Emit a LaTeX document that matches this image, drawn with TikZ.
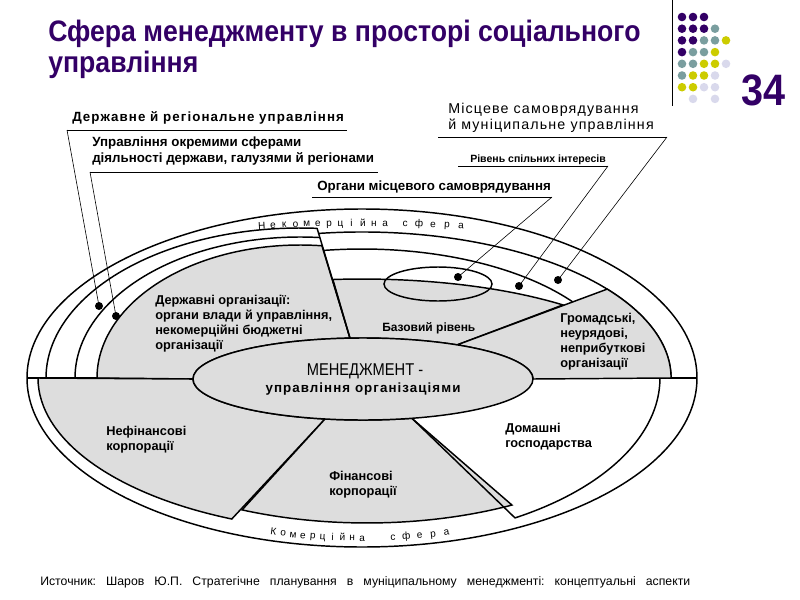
\documentclass[tikz,border=0pt]{standalone}
\usepackage{fontspec}
\setmainfont{Liberation Sans}
\newfontfamily\spacedfont{Liberation Sans}[LetterSpace=8]
\newfontfamily\titlefont{Liberation Sans}[FakeStretch=0.9]
\newfontfamily\narrowfont{Liberation Sans}[FakeStretch=0.86]
\usetikzlibrary{positioning}
\definecolor{titlepurple}{RGB}{51,0,102}
\definecolor{dotteal}{RGB}{122,158,159}
\definecolor{dotolive}{RGB}{204,204,0}
\definecolor{dotlilac}{RGB}{217,217,236}
\definecolor{sectorgray}{RGB}{221,221,221}
\tikzset{
	every node/.style={inner sep=0pt},
	border/.style={line width=1.1pt},
	sector/.style={border, fill=sectorgray},
	underline/.style={line width=0.6pt},
	leader/.style={line width=0.45pt},
	leaderdot/.style={circle, fill=black, minimum size=6pt},
	txt/.style={anchor=north west, align=left,
		font=\bfseries\fontsize{9.6}{11.25}\selectfont},
	toplbl/.style={anchor=base west, align=left,
		font=\bfseries\fontsize{10}{12}\selectfont},
	bandtxt/.style={anchor=base, font=\fontsize{7.5}{9}\selectfont}
}

\begin{document}
\frenchspacing
\begin{tikzpicture}[x=0.75pt, y=-0.75pt]
	\useasboundingbox (0,0) rectangle (800,600);

	\node[anchor=north west, align=left, text=titlepurple,
		font=\titlefont\bfseries\fontsize{22.2}{23}\selectfont] (title) at (48,20)
		{Сфера менеджменту в просторі соціального\\управління};
	\draw[line width=0.6pt] (672,0) -- (672,106);
	\foreach \c/\r/\col in {1/1/titlepurple,2/1/titlepurple,3/1/titlepurple,
		1/2/titlepurple,2/2/titlepurple,3/2/titlepurple,4/2/dotteal,
		1/3/titlepurple,2/3/titlepurple,3/3/dotteal,4/3/dotteal,5/3/dotolive,
		1/4/titlepurple,2/4/dotteal,3/4/dotteal,4/4/dotolive,
		1/5/dotteal,2/5/dotteal,3/5/dotolive,4/5/dotolive,5/5/dotlilac,
		1/6/dotteal,2/6/dotolive,3/6/dotolive,4/6/dotlilac,
		1/7/dotolive,2/7/dotolive,3/7/dotlilac,4/7/dotlilac,
		2/8/dotlilac,4/8/dotlilac}
		\fill[\col] ({682+11*(\c-1)},{17+11.7*(\r-1)}) circle[radius=4.3];
	\node[anchor=base east, text=titlepurple,
		font=\titlefont\bfseries\fontsize{33}{33}\selectfont] (pagenum) at (786,105) {34};

	% outer field
	\draw[border, fill=white] (362,378) ellipse[x radius=335, y radius=169];
	\draw[border] (27,378) -- (697,378);

	% state sector
	\draw[border] (46,378) arc[start angle=180, end angle=273.8, x radius=254, y radius=150];
	\draw[border] (75,378) arc[start angle=180, end angle=275, x radius=225, y radius=141];
	\filldraw[sector] (97,378) arc[start angle=180, end angle=276.2, x radius=203, y radius=133]
		-- (350,338.1) arc[start angle=265.6, end angle=180, x radius=170, y radius=41] -- cycle;

	% local sector
	\draw[border] (319,233.4) arc[start angle=262, end angle=360, x radius=309, y radius=146];
	\draw[border] (323.9,250.4) arc[start angle=261.6, end angle=323.8, x radius=261, y radius=129];
	\filldraw[sector] (332.9,279.5) arc[start angle=264.4, end angle=312.4, x radius=298, y radius=99]
		-- (457.1,344.9) arc[start angle=303.6, end angle=265.6, x radius=170, y radius=41] -- cycle;
	\draw[border] (438,284) ellipse[x radius=54, y radius=17];
	\filldraw[sector] (457.1,344.9) -- (607.2,289.1)
		arc[start angle=322.5, end angle=360, x radius=309, y radius=146]
		-- (533,379) arc[start angle=0, end angle=-56.4, x radius=170, y radius=41] -- cycle;
	\draw[border] (317,228) -- (350,338.1);

	% commercial sector
	\filldraw[sector] (38,378) arc[start angle=180, end angle=113.7, x radius=324, y radius=154]
		-- (325,419) arc[start angle=102.9, end angle=180, x radius=170, y radius=41] -- cycle;
	\filldraw[sector] (325,419) -- (242.1,509.9)
		arc[start angle=114.6, end angle=61.1, x radius=300, y radius=144]
		-- (411.9,418.3) arc[start angle=73.3, end angle=102.9, x radius=170, y radius=41] -- cycle;
	\draw[border] (411.9,418.3) -- (515,517.9)
		arc[start angle=59.1, end angle=0, x radius=298, y radius=163];

	\filldraw[sector] (363,379) ellipse[x radius=170, y radius=41];

	% band captions
	\foreach \ch [count=\i from 0] in {Н,е,к,о,м,е,р,ц,і,й,н,а}{
		\pgfmathsetmacro\xx{262+11.2*\i}
		\pgfmathsetmacro\uu{(\xx-362)/520}
		\pgfmathsetmacro\yy{378-152*sqrt(1-\uu*\uu)}
		\pgfmathsetmacro\rot{-atan(152*\uu/(520*sqrt(1-\uu*\uu)))}
		\node[bandtxt, rotate=\rot] (nka\i) at (\xx,\yy) {\ch};
	}
	\foreach \ch [count=\i from 0] in {с,ф,е,р,а}{
		\pgfmathsetmacro\xx{405+14*\i}
		\pgfmathsetmacro\uu{(\xx-362)/520}
		\pgfmathsetmacro\yy{378-152*sqrt(1-\uu*\uu)}
		\pgfmathsetmacro\rot{-atan(152*\uu/(520*sqrt(1-\uu*\uu)))}
		\node[bandtxt, rotate=\rot] (nkb\i) at (\xx,\yy) {\ch};
	}
	\foreach \ch [count=\i from 0] in {К,о,м,е,р,ц,і,й,н,а}{
		\pgfmathsetmacro\xx{273+9.9*\i}
		\pgfmathsetmacro\uu{(\xx-362)/331}
		\pgfmathsetmacro\yy{378+163*sqrt(1-\uu*\uu)}
		\pgfmathsetmacro\rot{atan(163*\uu/(331*sqrt(1-\uu*\uu)))}
		\node[bandtxt, rotate=\rot] (kma\i) at (\xx,\yy) {\ch};
	}
	\foreach \ch [count=\i from 0] in {с,ф,е,р,а}{
		\pgfmathsetmacro\xx{393+13.5*\i}
		\pgfmathsetmacro\uu{(\xx-362)/331}
		\pgfmathsetmacro\yy{378+163*sqrt(1-\uu*\uu)}
		\pgfmathsetmacro\rot{atan(163*\uu/(331*sqrt(1-\uu*\uu)))}
		\node[bandtxt, rotate=\rot] (kmb\i) at (\xx,\yy) {\ch};
	}

	% sector texts
	\node[txt] (txtstate) at (155,295) {Державні організації:\\органи влади й управління,\\некомерційні бюджетні\\організації};
	\node[txt, anchor=base west, font=\bfseries\fontsize{9}{11}\selectfont] (txtbase) at (382,331) {Базовий рівень};
	\node[txt] (txtpublic) at (560,313) {Громадські,\\неурядові,\\неприбуткові\\організації};
	\node[anchor=base, font=\narrowfont\fontsize{12.8}{14}\selectfont] (txtmanage) at (365,375) {МЕНЕДЖМЕНТ -};
	\node[anchor=base, font=\spacedfont\bfseries\fontsize{10}{12}\selectfont] (txtorg) at (363,392) {управління організаціями};
	\node[txt] (txtnonfin) at (106,426) {Нефінансові\\корпорації};
	\node[txt] (txtfin) at (329,471) {Фінансові\\корпорації};
	\node[txt] (txthouse) at (505,423) {Домашні\\господарства};

	% callouts
	\node[toplbl, font=\spacedfont\bfseries\fontsize{10}{12}\selectfont] (lblstate) at (72,121) {Державне й регіональне управління};
	\node[toplbl, anchor=north west, font=\bfseries\fontsize{10}{12}\selectfont] (lblsphere) at (92,137) {Управління окремими сферами\\діяльності держави, галузями й регіонами};
	\node[toplbl] (lblorgans) at (317,190) {Органи місцевого самоврядування};
	\node[toplbl, font=\bfseries\fontsize{7.9}{10}\selectfont] (lblcommon) at (470,162) {Рівень спільних інтересів};
	\node[toplbl, anchor=north west, font=\spacedfont\fontsize{10.7}{12}\selectfont] (lblmunicipal) at (448,102.5) {Місцеве самоврядування\\й муніципальне управління};

	\coordinate (ustateA) at (67,130);
	\coordinate (ustateB) at (347,130);
	\coordinate (usphereA) at (90,172);
	\coordinate (usphereB) at (378,172);
	\coordinate (uorgansA) at (312,197);
	\coordinate (uorgansB) at (552,197);
	\coordinate (ucommonA) at (458,166);
	\coordinate (ucommonB) at (608,166);
	\coordinate (umunicipalA) at (438,137);
	\coordinate (umunicipalB) at (667,137);
	\foreach \u in {state,sphere,organs,common,municipal}
		\draw[underline] (u\u A) -- (u\u B);

	\node[leaderdot] (dstate) at (99,306) {};
	\node[leaderdot] (dsphere) at (116,316) {};
	\node[leaderdot] (dorgans) at (458,277) {};
	\node[leaderdot] (dcommon) at (519,286) {};
	\node[leaderdot] (dmunicipal) at (558,280) {};
	\draw[leader] (ustateA) -- (dstate.center);
	\draw[leader] (usphereA) -- (dsphere.center);
	\draw[leader] (uorgansB) -- (dorgans.center);
	\draw[leader] (ucommonB) -- (dcommon.center);
	\draw[leader] (umunicipalB) -- (dmunicipal.center);

	\node[anchor=base west, font=\fontsize{9.2}{11}\selectfont] (source) at (40,585)
		{\makebox[487.5pt][s]{Источник: Шаров Ю.П. Стратегічне планування в муніципальному менеджменті: концептуальні аспекти}};
\end{tikzpicture}
\end{document}
